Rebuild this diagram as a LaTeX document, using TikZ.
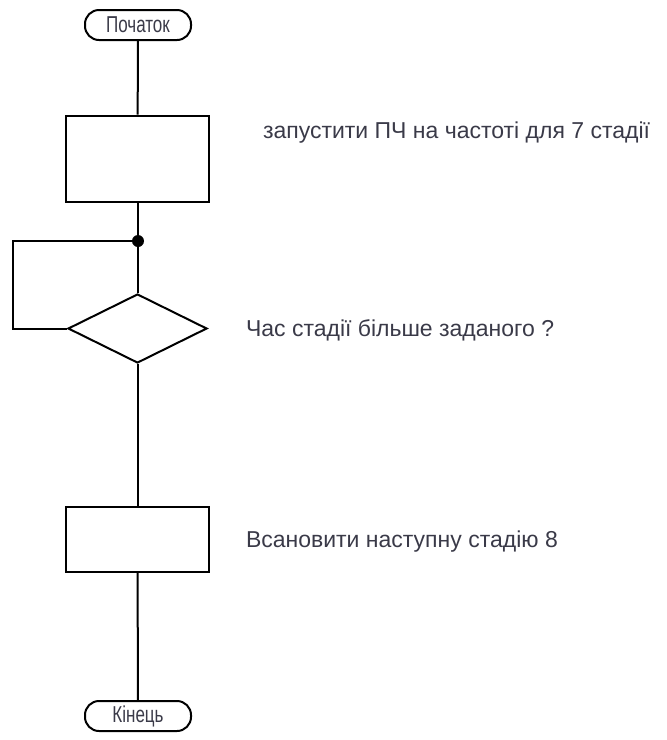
\documentclass[tikz,border=0pt]{standalone}
\usepackage{fontspec}
\setmainfont{Liberation Sans}
\newfontfamily\gostfont[FakeStretch=0.74]{Liberation Sans}
\usetikzlibrary{shapes.geometric}
\definecolor{txt}{RGB}{58,58,72}
\begin{document}
\begin{tikzpicture}[x=1pt,y=-1pt,line width=2pt,
  terminal/.style={draw, rounded corners=14pt, minimum width=106pt, minimum height=30pt,
    inner sep=0pt, text=txt, font=\gostfont\fontsize{23}{23}\selectfont},
  procbox/.style={draw, minimum width=143pt, inner sep=0pt},
  decision/.style={draw, diamond, minimum width=139pt, minimum height=69pt, inner sep=0pt},
  caption/.style={anchor=west, inner sep=0pt, text=txt, font=\fontsize{23}{23}\selectfont}]
  \useasboundingbox (0,0) rectangle (667,740);

  % flowchart blocks
  \node[terminal] (start) at (138,25) {Початок};
  \node[procbox, minimum height=86pt] (box1) at (137.5,158.5) {};
  \coordinate (j) at (138,241);
  \node[decision] (dec) at (137.5,328.5) {};
  \node[procbox, minimum height=65pt] (box2) at (137.5,539.5) {};
  \node[terminal] (end) at (138,716) {Кінець};

  % loop back from the decision to the junction
  \coordinate (lc) at (13,241);
  \coordinate (lb) at (13,328.5);

  % connectors
  \draw (start) -- (box1);
  \draw (box1) -- (dec);
  \draw (j) -- (lc) -- (lb) -- (dec.west);
  \fill (j) circle (6pt);
  \draw (dec) -- (box2);
  \draw (box2) -- (end);

  % captions
  \node[caption] (c1) at (262,133) {запустити ПЧ на частоті для 7 стадії};
  \node[caption] (c2) at (245,330) {Час стадії більше заданого ?};
  \node[caption] (c3) at (245,542) {Всановити наступну стадію 8};
\end{tikzpicture}
\end{document}
